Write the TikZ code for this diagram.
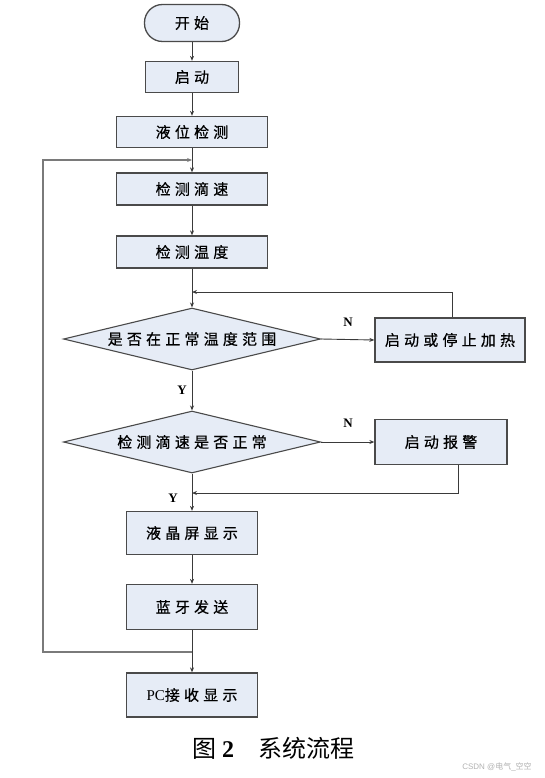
\documentclass[tikz,border=0pt]{standalone}
\usepackage{fontspec}
\setmainfont{Liberation Serif}
\newfontfamily\cjk[LetterSpace=28,FakeBold=0.6]{Noto Sans CJK SC}
\newfontfamily\cjkcap{Noto Sans CJK SC}
\newfontfamily\marksans{Liberation Sans}
\usetikzlibrary{shapes.geometric,arrows.meta}
\definecolor{boxfill}{HTML}{E6ECF6}
\definecolor{boxline}{HTML}{4A4A4A}
\definecolor{flowline}{HTML}{3A3A3A}
\definecolor{loopgray}{HTML}{7A7A7A}
\tikzset{
  procbox/.style={draw=boxline,line width=1.3pt,fill=boxfill,inner sep=0pt,
    font=\fontsize{15}{18}\selectfont\cjk},
  termbox/.style={procbox,rounded corners=18pt},
  decbox/.style={diamond,aspect=4.15,draw=boxline,line width=1.1pt,fill=boxfill,inner sep=0pt,
    minimum width=257pt,minimum height=62pt,font=\fontsize{15}{18}\selectfont\cjk},
  flow/.style={flowline,line width=0.9pt,-{Stealth[length=5pt,width=4pt]}},
  loopline/.style={flow,draw=loopgray,line width=1.4pt},
  yn/.style={font=\bfseries\fontsize{13}{15}\selectfont}
}
\begin{document}
\begin{tikzpicture}[x=1pt,y=-1pt]
  \useasboundingbox (0,0) rectangle (544,778);
  % Main column
  \node[termbox,minimum width=95pt,minimum height=37pt] (start) at (192,23) {开始};
  \node[procbox,minimum width=93pt,minimum height=31pt] (boot) at (192,77) {启动};
  \node[procbox,minimum width=151pt,minimum height=31pt] (level) at (192,132) {液位检测};
  \node[procbox,minimum width=151pt,minimum height=32pt] (drip) at (192,189) {检测滴速};
  \node[procbox,minimum width=151pt,minimum height=32pt] (temp) at (192,252) {检测温度};
  \node[decbox] (tempok) at (192,339) {是否在正常温度范围};
  \node[decbox] (dripok) at (192,442) {检测滴速是否正常};
  \node[procbox,minimum width=131pt,minimum height=43pt] (lcd) at (192,533) {液晶屏显示};
  \node[procbox,minimum width=131pt,minimum height=45pt] (bt) at (192,607) {蓝牙发送};
  \node[procbox,minimum width=131pt,minimum height=44pt] (pc) at (192,695) {\rmfamily PC\cjk 接收显示};
  % Side branches
  \node[procbox,minimum width=150pt,minimum height=44pt] (heat) at (450,340) {启动或停止加热};
  \node[procbox,minimum width=132pt,minimum height=45pt] (alarm) at (441,442) {启动报警};
  % Merge points
  \coordinate (looptop) at (192,160);
  \coordinate (loopbot) at (192,652);
  \coordinate (loopcorner) at (43,652);
  \coordinate (merge1) at (192,292);
  \coordinate (merge2) at (192,493);
  % Connectors
  \draw[flow] (start) -- (boot);
  \draw[flow] (boot) -- (level);
  \draw[flow] (level) -- (drip);
  \draw[flow] (drip) -- (temp);
  \draw[flow] (temp) -- (tempok.north);
  \draw[flow] (tempok.east) -- (heat.west);
  \draw[flow] ([xshift=2pt]heat.north) |- (merge1);
  \draw[flow] (tempok.south) -- (dripok.north);
  \draw[flow] (dripok.east) -- (alarm.west);
  \draw[flow] ([xshift=17pt]alarm.south) |- (merge2);
  \draw[flow] (dripok.south) -- (lcd.north);
  \draw[flow] (lcd) -- (bt);
  \draw[flow] (bt) -- (pc);
  \draw[loopline] (loopbot) -- (loopcorner) |- (looptop);
  % Branch labels
  \node[yn] (n1) at (348,322) {N};
  \node[yn] (y1) at (182,390) {Y};
  \node[yn] (n2) at (348,423) {N};
  \node[yn] (y2) at (173,498) {Y};
  % Caption
  \node[font=\fontsize{24}{28}\selectfont] (caption) at (273,748) {{\cjkcap 图}\ \textbf{2}\quad{\cjkcap 系统流程}};
  \node[text=gray!60,font=\fontsize{8}{10}\selectfont\marksans] (mark) at (497,767) {CSDN @{\cjkcap 电气}\_{\cjkcap 空空}};
\end{tikzpicture}
\end{document}
